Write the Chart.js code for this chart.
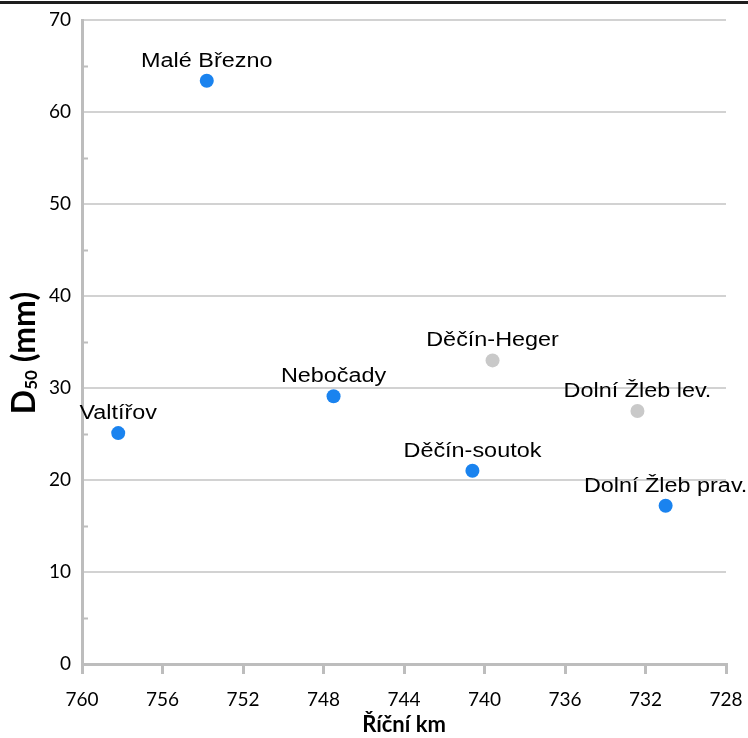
<!DOCTYPE html>
<html>
<head>
<meta charset="utf-8">
<script src="https://cdn.jsdelivr.net/npm/chart.js@4/dist/chart.umd.min.js"></script>
<style>
  html, body { margin: 0; padding: 0; background: #fff; }
  canvas { display: block; }
</style>
</head>
<body>
<canvas id="chart" width="748" height="738"></canvas>
<script>
// Sampling sites along the Elbe: river km and median grain size D50 (mm)
const siteNamesMain = ['Valtířov', 'Malé Březno', 'Nebočady', 'Děčín-soutok', 'Dolní Žleb prav.'];
const riverKmMain   = [758.2, 753.8, 747.5, 740.6, 731.0];
const d50Main       = [25.1, 63.4, 29.1, 21.0, 17.2];

const siteNamesOther = ['Děčín-Heger', 'Dolní Žleb lev.'];
const riverKmOther   = [739.6, 732.4];
const d50Other       = [33.0, 27.5];

const xTickValues = [760, 756, 752, 748, 744, 740, 736, 732, 728];
const yTickValues = [0, 10, 20, 30, 40, 50, 60, 70];
const yMinorTicks = [5, 15, 25, 35, 45, 55, 65];

const AXIS_GREY = '#bdbdbd';
const GRID_GREY = '#d2d2d2';
const BLUE = '#1a83ef';
const LIGHT = '#c9c9c9';

function toPoints(xs, ys) {
  return xs.map((x, i) => ({ x: x, y: ys[i] }));
}

// white page background and the thin dark rule along the top edge
const pagePlugin = {
  id: 'page',
  beforeDraw(chart) {
    const ctx = chart.ctx;
    ctx.save();
    ctx.fillStyle = '#fff';
    ctx.fillRect(0, 0, chart.width, chart.height);
    ctx.fillStyle = '#1e1e1e';
    ctx.fillRect(0, 1, chart.width, 3);
    ctx.restore();
  }
};

// short inward minor ticks on the value axis
const minorTickPlugin = {
  id: 'minorTicks',
  afterDraw(chart) {
    const y = chart.scales.y;
    const ctx = chart.ctx;
    ctx.save();
    ctx.strokeStyle = AXIS_GREY;
    ctx.lineWidth = 2;
    yMinorTicks.forEach(v => {
      const py = Math.round(y.getPixelForValue(v)) + 0.5;
      ctx.beginPath();
      ctx.moveTo(chart.chartArea.left, py);
      ctx.lineTo(chart.chartArea.left + 6, py);
      ctx.stroke();
    });
    ctx.restore();
  }
};

// vertical axis title with subscript: D50 (mm)
const yTitlePlugin = {
  id: 'yTitle',
  afterDraw(chart) {
    const ctx = chart.ctx;
    const mainFont = 'bold 32px Lato';
    const subFont = 'bold 17px Lato';
    ctx.save();
    ctx.font = mainFont;
    const wD = ctx.measureText('D').width;
    const wRest = ctx.measureText(' (mm)').width;
    ctx.font = subFont;
    const wSub = ctx.measureText('50').width;
    const total = wD + wSub + wRest;
    const cy = 353;
    ctx.translate(35, cy + total / 2);
    ctx.rotate(-Math.PI / 2);
    ctx.fillStyle = '#000';
    ctx.textBaseline = 'alphabetic';
    ctx.textAlign = 'left';
    ctx.font = mainFont;
    ctx.fillText('D', 0, 0);
    ctx.font = subFont;
    ctx.fillText('50', wD, 2);
    ctx.font = mainFont;
    ctx.fillText(' (mm)', wD + wSub, 0);
    ctx.restore();
  }
};

// site names written above each point
const siteLabelPlugin = {
  id: 'siteLabels',
  afterDatasetsDraw(chart) {
    const ctx = chart.ctx;
    ctx.save();
    ctx.font = '20px "Liberation Sans", Arial, sans-serif';
    ctx.fillStyle = '#000';
    ctx.textAlign = 'center';
    ctx.textBaseline = 'alphabetic';
    chart.data.datasets.forEach((ds, di) => {
      const meta = chart.getDatasetMeta(di);
      meta.data.forEach((pt, i) => {
        const name = ds.siteNames[i];
        ctx.save();
        ctx.translate(pt.x, pt.y - 14);
        ctx.scale(1.17, 1);
        ctx.fillText(name, 0, 0);
        ctx.restore();
      });
    });
    ctx.restore();
  }
};

new Chart(document.getElementById('chart'), {
  type: 'scatter',
  data: {
    datasets: [
      {
        label: 'D50',
        siteNames: siteNamesMain,
        data: toPoints(riverKmMain, d50Main),
        backgroundColor: BLUE,
        borderWidth: 0,
        pointRadius: 7,
        pointHoverRadius: 7
      },
      {
        label: 'D50 (ostatní)',
        siteNames: siteNamesOther,
        data: toPoints(riverKmOther, d50Other),
        backgroundColor: LIGHT,
        borderWidth: 0,
        pointRadius: 7,
        pointHoverRadius: 7
      }
    ]
  },
  options: {
    responsive: false,
    animation: false,
    devicePixelRatio: 1,
    events: [],
    layout: { padding: { top: 20, right: 22, left: 0, bottom: 0 } },
    plugins: {
      legend: { display: false },
      tooltip: { enabled: false }
    },
    scales: {
      x: {
        type: 'linear',
        reverse: true,
        min: 728,
        max: 760,
        afterBuildTicks(scale) { scale.ticks = xTickValues.map(v => ({ value: v })); },
        afterFit(scale) {
          scale.height = 74;
          scale.paddingLeft = 0;
          scale.paddingRight = 0;
        },
        grid: {
          drawOnChartArea: false,
          drawTicks: true,
          tickLength: 10,
          color: AXIS_GREY,
          lineWidth: 3
        },
        border: { color: AXIS_GREY, width: 3 },
        ticks: {
          color: '#000',
          font: { family: 'Lato', size: 19 },
          padding: 14,
          maxRotation: 0
        },
        title: {
          display: true,
          text: 'Říční km',
          color: '#000',
          font: { family: 'Lato', size: 22, weight: 'bold' },
          padding: { top: 0, bottom: 0 }
        }
      },
      y: {
        type: 'linear',
        min: 0,
        max: 70,
        afterBuildTicks(scale) { scale.ticks = yTickValues.map(v => ({ value: v })); },
        afterFit(scale) {
          scale.width = 82;
          scale.paddingTop = 0;
          scale.paddingBottom = 0;
        },
        grid: {
          color: GRID_GREY,
          lineWidth: 2,
          drawTicks: false
        },
        border: { color: AXIS_GREY, width: 3 },
        ticks: {
          color: '#000',
          font: { family: 'Lato', size: 19 },
          padding: 11
        }
      }
    }
  },
  plugins: [pagePlugin, minorTickPlugin, yTitlePlugin, siteLabelPlugin]
});
</script>
</body>
</html>
